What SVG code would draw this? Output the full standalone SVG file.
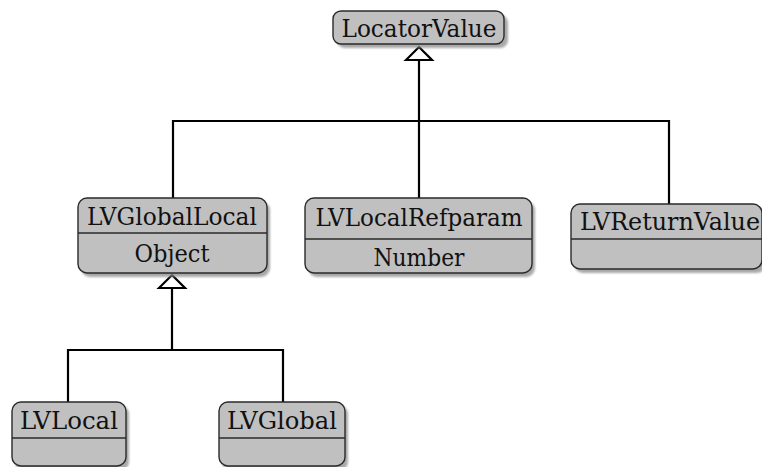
<svg xmlns="http://www.w3.org/2000/svg" width="762" height="467" viewBox="0 0 762 467">
  <defs>
    <filter id="soft" x="-10%" y="-10%" width="130%" height="140%">
      <feGaussianBlur stdDeviation="1.2"/>
    </filter>
  </defs>
  <style>
    .shadow { fill: #8c8c8c; opacity: 0.75; filter: url(#soft); }
    .box { fill: #c0c0c0; stroke: #2a2a2a; stroke-width: 1.4; }
    .div { stroke: #2a2a2a; stroke-width: 1.4; }
    .wire { fill: none; stroke: #000000; stroke-width: 2.2; }
    .head { fill: #ffffff; stroke: #000000; stroke-width: 2.2; }
    .lbl { font-family: 'DejaVu Serif', 'Liberation Serif', serif; font-size: 24px; fill: #111111; text-anchor: middle; }
  </style>

  <rect width="762" height="467" fill="#ffffff"/>

  <!-- inheritance connectors -->
  <g id="connectors">
    <path class="wire" d="M419,121 V60"/>
    <path class="wire" d="M173,198 V121 H669 V204 M419,121 V198"/>
    <path class="wire" d="M172,350 V288"/>
    <path class="wire" d="M68,402 V350 H283 V402"/>
    <path class="head" d="M406,60 L419,47 L432,60 Z"/>
    <path class="head" d="M159,288 L172,275 L185,288 Z"/>
  </g>

  <!-- LocatorValue -->
  <g id="LocatorValue">
    <rect class="shadow" x="337" y="15" width="171" height="33" rx="8"/>
    <rect class="box" x="333" y="11" width="171" height="33" rx="8"/>
    <text class="lbl" x="419" y="37" textLength="155" lengthAdjust="spacingAndGlyphs">LocatorValue</text>
  </g>

  <!-- LVGlobalLocal -->
  <g id="LVGlobalLocal">
    <rect class="shadow" x="81" y="201" width="189" height="76" rx="9"/>
    <rect class="box" x="78" y="198" width="189" height="75" rx="9"/>
    <line class="div" x1="78" y1="233" x2="267" y2="233"/>
    <text class="lbl" x="172" y="225" textLength="170" lengthAdjust="spacingAndGlyphs">LVGlobalLocal</text>
    <text class="lbl" x="172" y="262" textLength="75" lengthAdjust="spacingAndGlyphs">Object</text>
  </g>

  <!-- LVLocalRefparam -->
  <g id="LVLocalRefparam">
    <rect class="shadow" x="308" y="201" width="227" height="76" rx="9"/>
    <rect class="box" x="305" y="198" width="227" height="75" rx="9"/>
    <line class="div" x1="305" y1="239" x2="532" y2="239"/>
    <text class="lbl" x="419" y="226" textLength="207" lengthAdjust="spacingAndGlyphs">LVLocalRefparam</text>
    <text class="lbl" x="419" y="266" textLength="91" lengthAdjust="spacingAndGlyphs">Number</text>
  </g>

  <!-- LVReturnValue -->
  <g id="LVReturnValue">
    <rect class="shadow" x="574" y="207" width="192" height="66" rx="9"/>
    <rect class="box" x="571" y="204" width="191" height="65" rx="9"/>
    <line class="div" x1="571" y1="239" x2="762" y2="239"/>
    <text class="lbl" x="670" y="230" textLength="180" lengthAdjust="spacingAndGlyphs">LVReturnValue</text>
  </g>

  <!-- LVLocal -->
  <g id="LVLocal">
    <rect class="shadow" x="15" y="405" width="114" height="66" rx="9"/>
    <rect class="box" x="12" y="402" width="114" height="64" rx="9"/>
    <line class="div" x1="12" y1="438" x2="126" y2="438"/>
    <text class="lbl" x="69" y="429" textLength="98" lengthAdjust="spacingAndGlyphs">LVLocal</text>
  </g>

  <!-- LVGlobal -->
  <g id="LVGlobal">
    <rect class="shadow" x="222" y="405" width="126" height="66" rx="9"/>
    <rect class="box" x="219" y="402" width="126" height="64" rx="9"/>
    <line class="div" x1="219" y1="438" x2="345" y2="438"/>
    <text class="lbl" x="282" y="429" textLength="110" lengthAdjust="spacingAndGlyphs">LVGlobal</text>
  </g>
</svg>
